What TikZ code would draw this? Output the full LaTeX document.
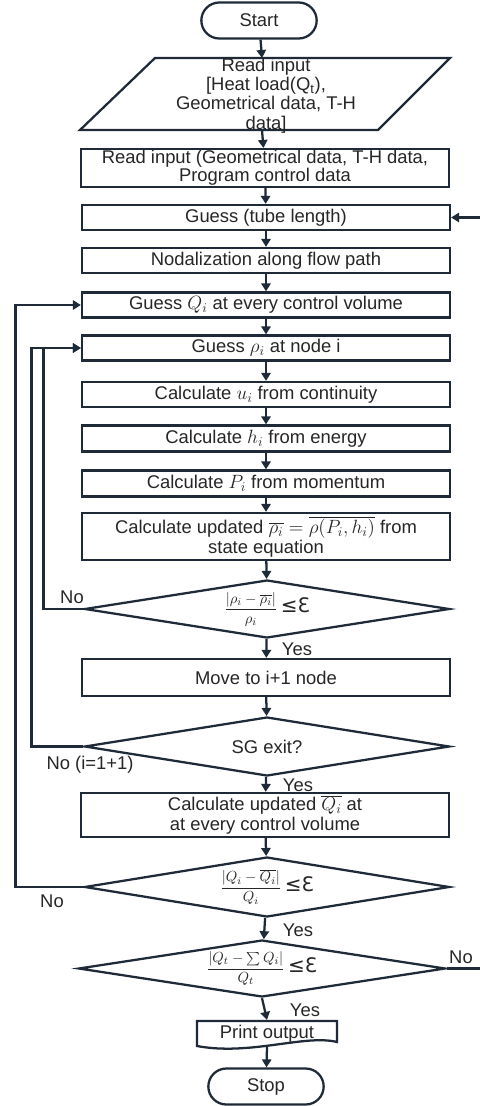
\documentclass[tikz,border=0pt]{standalone}
\usepackage{fontspec}
\setmainfont{Liberation Sans}
\newfontfamily\dejavu{DejaVu Sans}
\usetikzlibrary{arrows.meta,shapes.geometric,shapes.misc}
\definecolor{ln}{HTML}{1E2A38}
\definecolor{tx}{HTML}{262626}
\tikzset{
 x=0.75pt, y=-0.75pt,
 base/.style={draw=ln, line width=1.7pt, fill=white, font=\fontsize{13.8}{13.5}\selectfont, text=tx, inner sep=1pt, align=center},
 procbox/.style={base, rectangle, minimum width=368*0.75pt},
 term/.style={base, rounded rectangle, minimum width=118*0.75pt, minimum height=36*0.75pt},
 dec/.style={base, diamond, minimum width=365*0.75pt, inner sep=0pt, shape aspect=6},
 arr/.style={draw=ln, line width=1.7pt, -{Triangle[length=6pt,width=7pt]}},
 lbl/.style={font=\fontsize{13.8}{13.5}\selectfont, text=tx, inner sep=0pt},
}
\newcommand{\leE}{{\dejavu\fontsize{15}{16}\selectfont\,≤Ɛ}}
\newcommand{\fr}[2]{{\fontsize{11}{12}\selectfont$\displaystyle\frac{#1}{#2}$}}
\begin{document}
\begin{tikzpicture}
\useasboundingbox (0,0) rectangle (479,1106);
% Start
\node[term] (start) at (259,20.5) {Start};
% parallelogram
\coordinate (pa) at (155,58);
\coordinate (pb) at (450,58);
\coordinate (pc) at (378,130);
\coordinate (pd) at (80,130);
\coordinate (ptop) at (262,58);
\coordinate (pbot) at (262,130);
\draw[draw=ln, line width=1.7pt, fill=white] (pa) -- (pb) -- (pc) -- (pd) -- cycle;
\node[base, draw=none, fill=none, font=\fontsize{13.8}{14.5}\selectfont] (para) at (266,95.5)
  {Read input\\ {[}Heat load($\mathrm{Q_t}$),\\ Geometrical data, T-H\\ data{]}};
% boxes
\node[procbox, minimum height=36*0.75pt] (rd) at (265,168) {Read input (Geometrical data, T-H data,\\ Program control data};
\node[procbox, minimum height=25*0.75pt] (gtl) at (266,217.5) {Guess (tube length)};
\node[procbox, minimum height=25*0.75pt] (nod) at (266,260.5) {Nodalization along flow path};
\node[procbox, minimum height=25*0.75pt] (gq) at (266,305) {Guess $Q_i$ at every control volume};
\node[procbox, minimum height=25*0.75pt] (gr) at (266,348) {Guess $\rho_i$ at node i};
\node[procbox, minimum height=25*0.75pt] (cu) at (266,394.5) {Calculate $u_i$ from continuity};
\node[procbox, minimum height=26*0.75pt] (ch) at (266,438.5) {Calculate $h_i$ from energy};
\node[procbox, minimum height=26*0.75pt] (cp) at (266,483.5) {Calculate $P_i$ from momentum};
\node[procbox, minimum height=47*0.75pt, font=\fontsize{13.8}{15}\selectfont] (cupd) at (266,536.5) {Calculate updated $\overline{\rho_i}=\overline{\rho(P_i,h_i)}$ from\\ state equation};
\node[dec, minimum height=58*0.75pt] (d1) at (267,609) {\fr{|\rho_i-\overline{\rho_i}|}{\rho_i}\leE};
\node[procbox, minimum height=37*0.75pt] (mv) at (266,677.5) {Move to i+1 node};
\node[dec, minimum height=59*0.75pt] (d2) at (267,746.5) {SG exit?};
\node[procbox, minimum height=44*0.75pt, font=\fontsize{13.8}{15}\selectfont] (cq) at (265,815) {Calculate updated $\overline{Q_i}$ at\\ at every control volume};
\node[dec, minimum height=60*0.75pt] (d3) at (267,887) {\fr{|Q_i-\overline{Q_i}|}{Q_i}\leE};
\node[dec, minimum width=367*0.75pt, minimum height=57*0.75pt] (d4) at (262,968.5) {\fr{|Q_t-\sum Q_i|}{Q_t}\leE};
% print output (document shape)
\node[base, draw=none, fill=none, minimum width=140*0.75pt, minimum height=25*0.75pt] (po) at (267,1033.5) {Print output};
\draw[draw=ln, line width=1.7pt] (197,1021) -- (337,1021) -- (337,1042)
  .. controls (305,1034) and (250,1056) .. (197,1046) -- cycle;
\node[term] (stop) at (266,1086.5) {Stop};
% main flow
\draw[arr] (start) -- (ptop);
\draw[arr] (pbot) -- (rd);
\draw[arr] (rd) -- (gtl);
\draw[arr] (gtl) -- (nod);
\draw[arr] (nod) -- (gq);
\draw[arr] (gq) -- (gr);
\draw[arr] (gr) -- (cu);
\draw[arr] (cu) -- (ch);
\draw[arr] (ch) -- (cp);
\draw[arr] (cp) -- (cupd);
\draw[arr] (cupd) -- (d1);
\draw[arr] (d1) -- (mv);
\draw[arr] (mv) -- (d2);
\draw[arr] (d2) -- (cq);
\draw[arr] (cq) -- (d3);
\draw[arr] (d3) -- (d4);
\draw[arr] (d4.south) -- (po.north);
\draw[arr] (po.south) -- (stop);
% loops
\draw[arr] (d1.west) -- ++(-40,0) |- (gr.west);
\draw[arr] (d2.west) -- ++(-52,0) |- (gr.west);
\draw[arr] (d3.west) -- ++(-68,0) |- (gq.west);
\draw[arr] (d4.east) -- ++(50,0) |- (gtl.east);
% labels
\node[lbl] (no1) at (72,597) {No};
\node[lbl] (yes1) at (297,649) {Yes};
\node[lbl] (no2) at (90,765) {No (i=1+1)};
\node[lbl] (yes2) at (298,785) {Yes};
\node[lbl] (no3) at (52,901) {No};
\node[lbl] (yes3) at (298,930) {Yes};
\node[lbl] (no4) at (461,957) {No};
\node[lbl] (yes4) at (305,1010) {Yes};
\end{tikzpicture}
\end{document}
